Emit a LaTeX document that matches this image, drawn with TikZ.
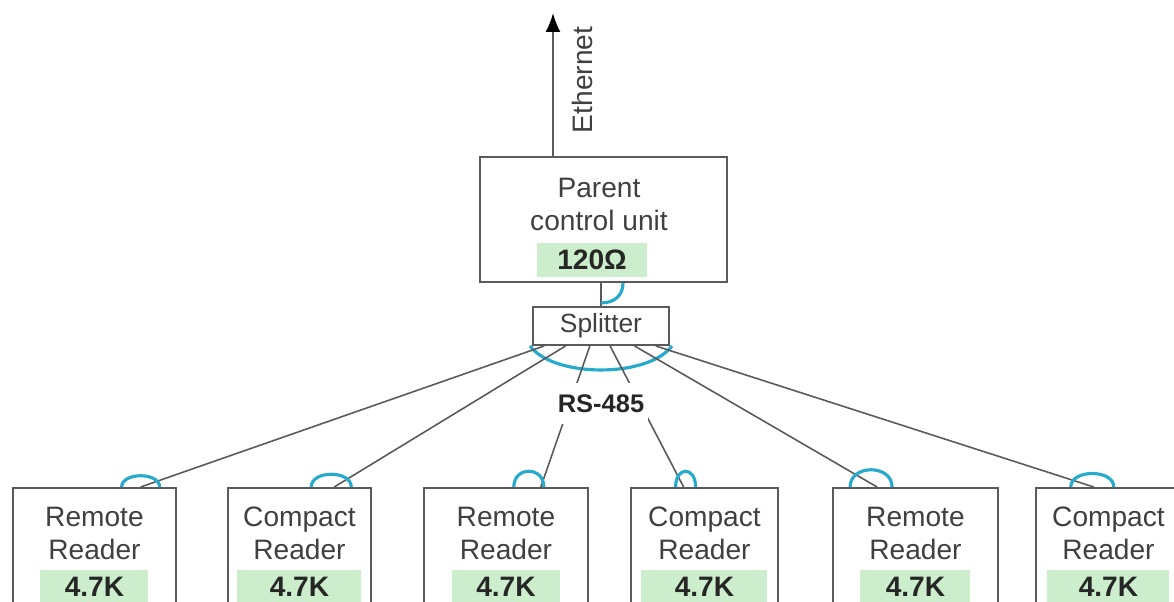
\documentclass[tikz,border=0pt]{standalone}
\usepackage{fontspec}
\setmainfont{Liberation Sans}
\usetikzlibrary{positioning,calc,arrows.meta}
\definecolor{resgreen}{RGB}{204,238,204}
\definecolor{hopblue}{RGB}{40,170,205}
\definecolor{boxgray}{RGB}{90,90,90}
\definecolor{txtgray}{RGB}{64,64,64}
\begin{document}
\begin{tikzpicture}[x=0.02cm, y=-0.02cm,
  box/.style={draw=boxgray, line width=1.1pt, fill=white, inner sep=0pt},
  lbl/.style={text=txtgray, align=center, font=\fontsize{16}{19}\selectfont},
  res/.style={fill=resgreen, text=black!85, inner sep=0pt, minimum height=0.68cm, font=\bfseries\fontsize{16}{19}\selectfont},
  wire/.style={draw=boxgray, line width=0.9pt},
  hop/.style={draw=hopblue, line width=1.8pt}]
\clip (0,0) rectangle (1174,602);
\fill[white] (0,0) rectangle (1174,602);
% parent unit and ethernet uplink
\node[box, minimum width=4.94cm, minimum height=2.5cm] (pcu) at (603.5,219.5) {};
\node[lbl] (pcutxt) at (599,204.5) {Parent\\control unit};
\node[res, minimum width=2.22cm] (pcures) at (592,260) {120Ω};
\coordinate (eth) at (553,13);
\draw[wire, line width=1pt, -{Latex[length=0.38cm, width=0.3cm, color=black]}] (pcu.north -| eth) -- (eth);
\node[lbl, rotate=90] (ethtxt) at (582,80) {Ethernet};
% splitter
\node[box, lbl, minimum width=2.72cm, minimum height=0.76cm, font=\fontsize{15}{17}\selectfont] (split) at (601,326) {Splitter};
\draw[wire] (pcu.south -| split) -- (split.north);
\draw[hop] ($(pcu.south -| split)+(0,20)$) .. controls +(14,0) and +(0,12) .. ($(pcu.south -| split)+(22,0)$);
\draw[hop] ($(split.south west)+(-2,0)$) .. controls +(24,32) and +(-24,32) .. ($(split.south east)+(2,0)$);
% readers
\node[box, anchor=north west, minimum width=3.26cm, minimum height=2.7cm] (r1) at (12,487) {};
\node[box, anchor=north west, minimum width=2.86cm, minimum height=2.7cm] (r2) at (227,487) {};
\node[box, anchor=north west, minimum width=3.28cm, minimum height=2.7cm] (r3) at (423,487) {};
\node[box, anchor=north west, minimum width=2.94cm, minimum height=2.7cm] (r4) at (630,487) {};
\node[box, anchor=north west, minimum width=3.30cm, minimum height=2.7cm] (r5) at (832,487) {};
\node[box, anchor=north west, minimum width=2.90cm, minimum height=2.7cm] (r6) at (1035,487) {};
\node[lbl] (r1txt) at ($(r1.north)+(0,46.5)$) {Remote\\Reader};
\node[lbl] (r2txt) at ($(r2.north)+(0,46.5)$) {Compact\\Reader};
\node[lbl] (r3txt) at ($(r3.north)+(0,46.5)$) {Remote\\Reader};
\node[lbl] (r4txt) at ($(r4.north)+(0,46.5)$) {Compact\\Reader};
\node[lbl] (r5txt) at ($(r5.north)+(0,46.5)$) {Remote\\Reader};
\node[lbl] (r6txt) at ($(r6.north)+(0,46.5)$) {Compact\\Reader};
\node[res, minimum width=2.16cm] (r1res) at ($(r1.north)+(0,100)$) {4.7K};
\node[res, minimum width=2.48cm] (r2res) at ($(r2.north)+(0,100)$) {4.7K};
\node[res, minimum width=2.16cm] (r3res) at ($(r3.north)+(0,100)$) {4.7K};
\node[res, minimum width=2.52cm] (r4res) at ($(r4.north)+(0,100)$) {4.7K};
\node[res, minimum width=2.20cm] (r5res) at ($(r5.north)+(0,100)$) {4.7K};
\node[res, minimum width=2.44cm] (r6res) at ($(r6.north)+(0,100)$) {4.7K};
% RS-485 bus
\coordinate (r1in) at ($(r1.north west)!0.78!(r1.north east)$);
\coordinate (r2in) at ($(r2.north west)!0.74!(r2.north east)$);
\coordinate (r3in) at ($(r3.north west)!0.71!(r3.north east)$);
\coordinate (r4in) at ($(r4.north west)!0.36!(r4.north east)$);
\coordinate (r5in) at ($(r5.north west)!0.27!(r5.north east)$);
\coordinate (r6in) at ($(r6.north west)!0.40!(r6.north east)$);
\draw[wire] ($(split.south west)!0.088!(split.south east)$) -- (r1in);
\draw[wire] ($(split.south west)!0.243!(split.south east)$) -- (r2in);
\draw[wire] ($(split.south west)!0.419!(split.south east)$) -- (r3in);
\draw[wire] ($(split.south west)!0.566!(split.south east)$) -- (r4in);
\draw[wire] ($(split.south west)!0.743!(split.south east)$) -- (r5in);
\draw[wire] ($(split.south west)!0.897!(split.south east)$) -- (r6in);
\node[fill=white, text=black!85, font=\bfseries\fontsize{14.5}{17}\selectfont, minimum height=0.82cm, inner xsep=2pt, below=0.74cm of split] (rs) {RS-485};
\draw[hop] ($(r1in)+(-19,0)$) .. controls +(0,-15) and +(0,-15) .. ($(r1in)+(19,0)$);
\draw[hop] ($(r2in)+(-23,0)$) .. controls +(0,-17) and +(0,-17) .. ($(r2in)+(17,0)$);
\draw[hop] ($(r3in)+(-27,0)$) .. controls +(0,-21) and +(0,-21) .. ($(r3in)+(3,0)$);
\draw[hop] ($(r4in)+(-8,0)$) .. controls +(0,-21) and +(0,-21) .. ($(r4in)+(12,0)$);
\draw[hop] ($(r5in)+(-27,0)$) .. controls +(0,-23) and +(0,-23) .. ($(r5in)+(15,0)$);
\draw[hop] ($(r6in)+(-23,0)$) .. controls +(0,-18) and +(0,-18) .. ($(r6in)+(20,0)$);
\end{tikzpicture}
\end{document}
